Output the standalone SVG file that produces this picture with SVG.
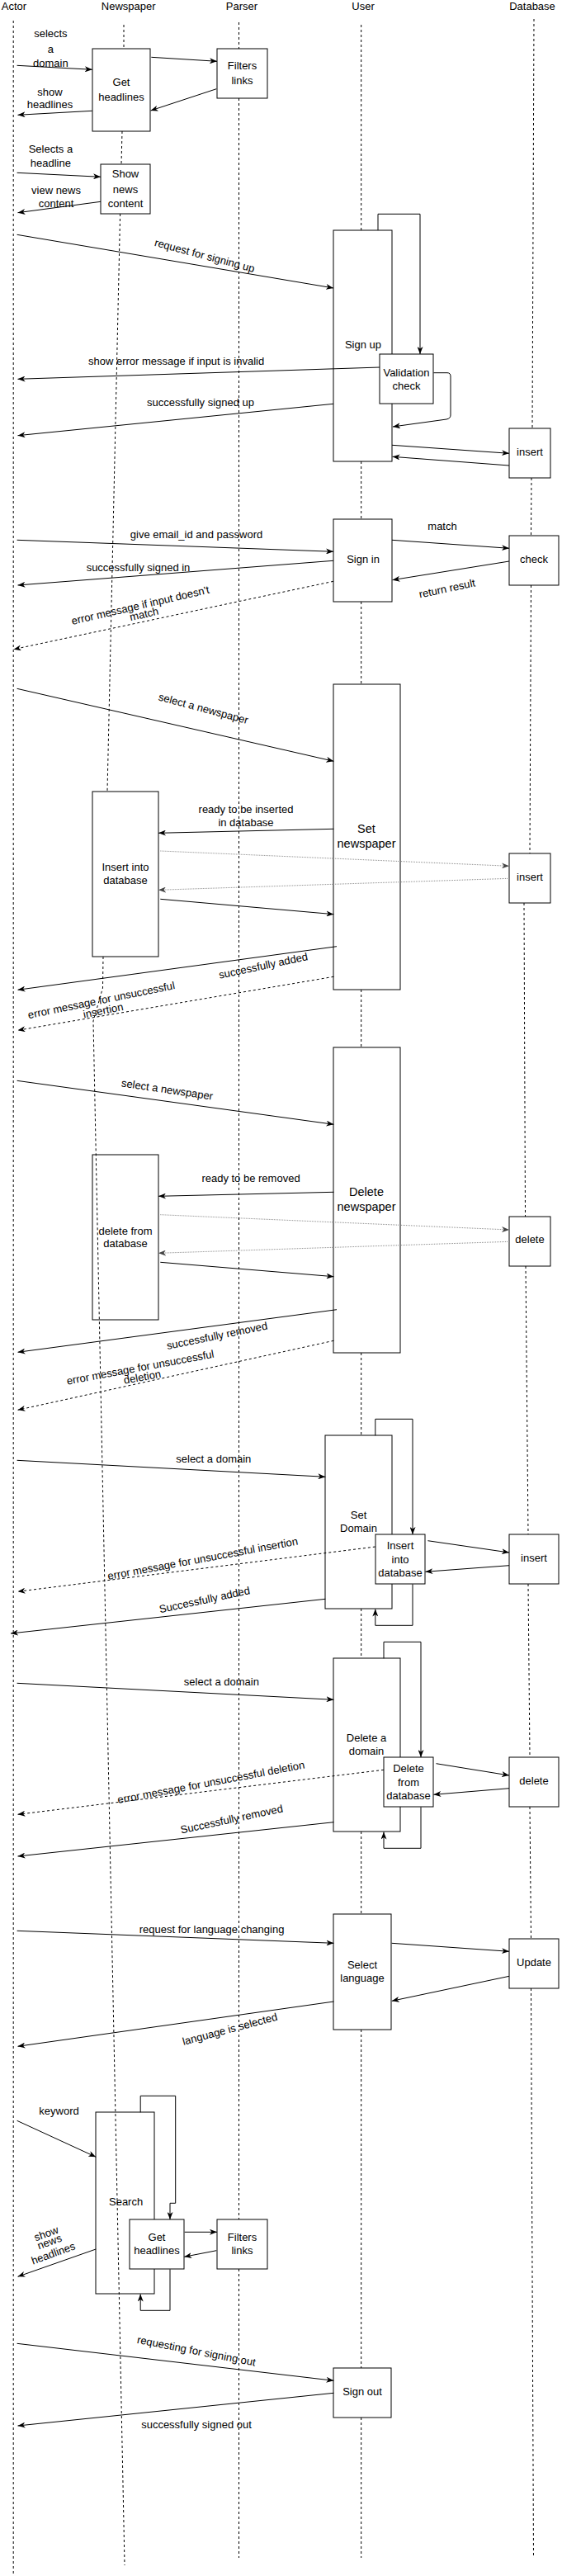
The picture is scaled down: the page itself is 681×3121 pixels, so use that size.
<svg xmlns="http://www.w3.org/2000/svg" width="681" height="3121" viewBox="0 0 681 3121">
<style>
text{font-family:"Liberation Sans",Arial,Helvetica,sans-serif;font-size:13px;fill:#000;text-anchor:middle}
.big{font-size:14.5px}
.box{fill:#fff;stroke:#000;stroke-width:1}
.ll{fill:none;stroke:#000;stroke-width:1;stroke-dasharray:3 3}
.m{fill:none;stroke:#000;stroke-width:1;marker-end:url(#a)}
.d{fill:none;stroke:#000;stroke-width:1;stroke-dasharray:3 3;marker-end:url(#a)}
.g{fill:none;stroke:#8c8c8c;stroke-width:1;stroke-dasharray:1 1;marker-end:url(#ag)}
</style>
<defs>
<marker id="a" viewBox="0 0 9 7" refX="9" refY="3.5" markerWidth="9" markerHeight="7" markerUnits="userSpaceOnUse" orient="auto"><path d="M0,0 L9,3.5 L0,7 L2.5,3.5 z" fill="#000"/></marker>
<marker id="ag" viewBox="0 0 9 7" refX="9" refY="3.5" markerWidth="9" markerHeight="7" markerUnits="userSpaceOnUse" orient="auto"><path d="M0,0 L9,3.5 L0,7 L2.5,3.5 z" fill="#444"/></marker>
</defs>
<rect width="681" height="3121" fill="#fff"/>

<g id="headers">
<text x="17" y="12">Actor</text>
<text x="155.7" y="12">Newspaper</text>
<text x="293" y="12">Parser</text>
<text x="440" y="12">User</text>
<text x="645" y="12">Database</text>
</g>

<g id="n_get_headlines"><rect class="box" x="112" y="59" width="70" height="100"/><text x="147" y="103.8">Get</text><text x="147" y="121.8">headlines</text></g>
<g id="p_filters_links"><rect class="box" x="263" y="59" width="61" height="60"/><text x="293.5" y="83.8">Filters</text><text x="293.5" y="101.8">links</text></g>
<g id="n_show_news"><rect class="box" x="122" y="199" width="60" height="60"/><text x="152" y="215.2">Show</text><text x="152" y="233.5">news</text><text x="152" y="251.2">content</text></g>
<g id="u_sign_up"><rect class="box" x="404" y="279" width="71" height="280"/><text x="440" y="421.5">Sign up</text></g>
<g id="u_validation"><rect class="box" x="460" y="429" width="65" height="60"/><text x="492.5" y="455.8">Validation</text><text x="492.5" y="471.5">check</text></g>
<g id="d_insert1"><rect class="box" x="617" y="519" width="50" height="60"/><text x="642" y="551.5">insert</text></g>
<g id="u_sign_in"><rect class="box" x="404" y="629" width="71" height="100"/><text x="440" y="681.5">Sign in</text></g>
<g id="d_check"><rect class="box" x="617" y="649" width="60" height="60"/><text x="647" y="681.5">check</text></g>
<g id="u_set_newspaper"><rect class="box" x="404" y="829" width="81" height="370"/><text class="big" x="444" y="1009">Set</text><text class="big" x="444" y="1027.3">newspaper</text></g>
<g id="n_insert_db"><rect class="box" x="112" y="959" width="80" height="200"/><text x="152" y="1055.2">Insert into</text><text x="152" y="1071.2">database</text></g>
<g id="d_insert2"><rect class="box" x="617" y="1034" width="50" height="60"/><text x="642" y="1067.2">insert</text></g>
<g id="u_delete_newspaper"><rect class="box" x="404" y="1269" width="81" height="370"/><text class="big" x="444" y="1449">Delete</text><text class="big" x="444" y="1467.3">newspaper</text></g>
<g id="n_delete_db"><rect class="box" x="112" y="1399" width="80" height="200"/><text x="152" y="1495.5">delete from</text><text x="152" y="1511.2">database</text></g>
<g id="d_delete1"><rect class="box" x="617" y="1474" width="50" height="60"/><text x="642" y="1506.2">delete</text></g>
<g id="u_set_domain"><rect class="box" x="394" y="1739" width="81" height="210"/><text x="434.5" y="1839.5">Set</text><text x="434.5" y="1856.2">Domain</text></g>
<g id="u_insert_db"><rect class="box" x="455" y="1859" width="60" height="60"/><text x="485" y="1877.2">Insert</text><text x="485" y="1893.5">into</text><text x="485" y="1909.5">database</text></g>
<g id="d_insert3"><rect class="box" x="617" y="1859" width="60" height="60"/><text x="647" y="1892.2">insert</text></g>
<g id="u_delete_domain"><rect class="box" x="404" y="2009" width="81" height="210"/><text x="444" y="2110.2">Delete a</text><text x="444" y="2126.2">domain</text></g>
<g id="u_delete_db"><rect class="box" x="465" y="2129" width="60" height="60"/><text x="495" y="2147.2">Delete</text><text x="495" y="2163.5">from</text><text x="495" y="2179.5">database</text></g>
<g id="d_delete2"><rect class="box" x="617" y="2129" width="60" height="60"/><text x="647" y="2161.5">delete</text></g>
<g id="u_select_language"><rect class="box" x="404" y="2319" width="70" height="140"/><text x="439" y="2385.2">Select</text><text x="439" y="2401.2">language</text></g>
<g id="d_update"><rect class="box" x="617" y="2349" width="60" height="60"/><text x="647" y="2382.2">Update</text></g>
<g id="n_search"><rect class="box" x="116" y="2559" width="71" height="220"/><text x="152.6" y="2671.8">Search</text></g>
<g id="n_get_headlines2"><rect class="box" x="157" y="2689" width="66" height="60"/><text x="190" y="2714.5">Get</text><text x="190" y="2730.5">headlines</text></g>
<g id="p_filters_links2"><rect class="box" x="263" y="2689" width="61" height="60"/><text x="293.5" y="2714.5">Filters</text><text x="293.5" y="2730.5">links</text></g>
<g id="u_sign_out"><rect class="box" x="404" y="2869" width="70" height="60"/><text x="439" y="2902.2">Sign out</text></g>

<g id="lifelines">
<path class="ll" d="M16.2,25 L16.2,3120"/>
<path class="ll" d="M150,30 L150,59 M148,159 L147,199 M145.6,259 L130,959 M125,1159 L124.5,1197 L113,1237 L151,3108"/>
<path class="ll" d="M289.5,27 L289.5,59 M289.5,119 L289.5,2689 M289.5,2749 L289.5,3099"/>
<path class="ll" d="M437.7,30 L437.7,279 M437.7,559 L437.7,629 M437.7,729 L437.7,829 M437.7,1199 L437.7,1269 M437.7,1639 L437.7,1739 M437.7,1949 L437.7,2009 M437.7,2219 L437.7,2319 M437.7,2459 L437.7,2869 M437.7,2929 L437.7,3099"/>
<path class="ll" d="M647,23 L645,519 M644,579 L643.5,649 M643.5,709 L642,1034 M635,1094 L636.5,1474 M637,1534 L640,1859 M640,1919 L642,2129 M642,2189 L643.5,2349 M643.5,2409 L646.5,3099"/>
</g>

<g id="connectors">
<path class="m" d="M20.6,79.3 L111.8,84.3"/>
<path class="m" d="M183.3,69.3 L263,74.3"/>
<path class="m" d="M262.3,107.7 L182.5,134"/>
<path class="m" d="M111.8,134.3 L21.5,139.3"/>
<path class="m" d="M20.6,209.3 L122,214.3"/>
<path class="m" d="M122,244.3 L21.5,257.7"/>
<path class="m" d="M20.6,284.3 L404,349"/>
<path class="m" d="M458,279 L458,259.3 L509,259.3 L509,429"/>
<path class="m" d="M460,445 L21.5,459.3"/>
<path class="m" d="M525.4,451.7 L542,451.7 Q546,451.7 546,456 L546,503 Q546,507 541,508 L476,517"/>
<path class="m" d="M404,489.3 L21.5,527.7"/>
<path class="m" d="M475,539.3 L617,549.3"/>
<path class="m" d="M617,564 L475.5,553.3"/>
<path class="m" d="M20.6,654.3 L404,668.3"/>
<path class="m" d="M475,654.3 L617,664.3"/>
<path class="m" d="M617,680 L475.5,702.7"/>
<path class="m" d="M404,679.3 L21.5,709"/>
<path class="d" d="M404,704.3 L16.5,786.7"/>
<path class="m" d="M20.6,834.3 L404.4,922.3"/>
<path class="m" d="M404.4,1004.3 L192,1009.3"/>
<path class="g" d="M194.3,1031 L617,1049.3"/>
<path class="g" d="M617,1064.3 L192,1078.3"/>
<path class="m" d="M194.3,1089.3 L404.4,1107.7"/>
<path class="m" d="M408,1146.7 L21.5,1199.3"/>
<path class="d" d="M404.4,1183.3 L21.5,1248.3"/>
<path class="m" d="M20.6,1309.3 L404.4,1362.3"/>
<path class="m" d="M404.4,1444.3 L192,1449.3"/>
<path class="g" d="M194.3,1471.7 L617,1490"/>
<path class="g" d="M617,1504.3 L192,1518.3"/>
<path class="m" d="M194.3,1529.3 L404.4,1546.7"/>
<path class="m" d="M408,1586.7 L21.5,1638.3"/>
<path class="d" d="M404.4,1624.3 L21.5,1708.3"/>
<path class="m" d="M454.8,1739.3 L454.8,1719.3 L500,1719.3 L500,1859"/>
<path class="m" d="M20.6,1769.3 L394.3,1789.3"/>
<path class="m" d="M518.4,1866.7 L617,1881"/>
<path class="m" d="M617,1896.7 L515.4,1904.3"/>
<path class="d" d="M454.8,1874 L21.5,1928.3"/>
<path class="m" d="M500,1919.3 L500,1969.3 L454.8,1969.3 L454.8,1949.5"/>
<path class="m" d="M394.3,1937.3 L13,1979"/>
<path class="m" d="M465,2009.3 L465,1989.3 L510,1989.3 L510,2129"/>
<path class="m" d="M20.6,2039.3 L404.4,2059.3"/>
<path class="m" d="M528.5,2136.7 L617,2151"/>
<path class="m" d="M617,2166.7 L525.4,2174.3"/>
<path class="d" d="M465,2144.3 L21.5,2198.3"/>
<path class="m" d="M510,2189.3 L510,2239.3 L465,2239.3 L465,2219.5"/>
<path class="m" d="M404.4,2207.7 L21.5,2249"/>
<path class="m" d="M20.6,2339.3 L404.4,2354.3"/>
<path class="m" d="M474.6,2354.3 L617,2364.3"/>
<path class="m" d="M617,2394.3 L474.8,2424.3"/>
<path class="m" d="M404.4,2425 L21.5,2479.3"/>
<path class="m" d="M20.6,2569.3 L116.2,2613.3"/>
<path class="m" d="M170.2,2559.3 L170.2,2539.3 L212.7,2539.3 L212.7,2669.3 L206,2669.3 L206,2689"/>
<path class="m" d="M223.7,2704.3 L263,2704.3"/>
<path class="m" d="M262.3,2726.7 L223.2,2734.3"/>
<path class="m" d="M206,2749.3 L206,2799.3 L170.2,2799.3 L170.2,2779.5"/>
<path class="m" d="M116.2,2725 L21.5,2758.3"/>
<path class="m" d="M20.6,2839.3 L404.4,2884.3"/>
<path class="m" d="M404.4,2899.3 L21.5,2939"/>
</g>

<g id="labels">
<text x="61.4" y="45.2">selects</text><text x="61.4" y="63.8">a</text><text x="61.4" y="81.2">domain</text>
<text x="60.5" y="115.5">show</text><text x="60.5" y="131.2">headlines</text>
<text x="61.4" y="184.5">Selects a</text><text x="61.4" y="201.8">headline</text>
<text x="68" y="235.2">view news</text><text x="68" y="251.2">content</text>
<text x="248" y="314" transform="rotate(15 248 309.5)">request for signing up</text>
<text x="213.6" y="442.2">show error message if input is invalid</text>
<text x="243" y="492.2">successfully signed up</text>
<text x="238" y="651.8">give email_id and password</text>
<text x="536" y="641.8">match</text>
<text x="541.7" y="717.5" transform="rotate(-12 541.7 713)">return result</text>
<text x="167.5" y="692.2">successfully signed in</text>
<text x="170" y="737.8" transform="rotate(-13 170 733.3)">error message if input doesn't</text>
<text x="174.6" y="748.5" transform="rotate(-13 174.6 744)">match</text>
<text x="246.5" y="862.8" transform="rotate(15 246.5 858.3)">select a newspaper</text>
<text x="298" y="985.2">ready to be inserted</text><text x="298" y="1001.2">in database</text>
<text x="319" y="1174.5" transform="rotate(-12 319 1170)">successfully added</text>
<text x="122.8" y="1216.2" transform="rotate(-11.5 122.8 1211.7)">error message for unsuccessful</text>
<text x="125" y="1228.8" transform="rotate(-11.5 125 1224.3)">insertion</text>
<text x="202.6" y="1324.5" transform="rotate(8.4 202.6 1320)">select a newspaper</text>
<text x="304" y="1432.2">ready to be removed</text>
<text x="263" y="1622.8" transform="rotate(-11.5 263 1618.3)">successfully removed</text>
<text x="170" y="1661.2" transform="rotate(-10.5 170 1656.7)">error message for unsuccessful</text>
<text x="172.4" y="1672.8" transform="rotate(-10.5 172.4 1668.3)">deletion</text>
<text x="258.8" y="1772.2">select a domain</text>
<text x="245.6" y="1892.8" transform="rotate(-10.5 245.6 1888.3)">error message for unsuccessful insertion</text>
<text x="247.8" y="1942.8" transform="rotate(-12 247.8 1938.3)">Successfully added</text>
<text x="268.4" y="2042.2">select a domain</text>
<text x="255.7" y="2163.8" transform="rotate(-10.7 255.7 2159.3)">error message for unsuccessful deletion</text>
<text x="280.7" y="2208.5" transform="rotate(-12 280.7 2204)">Successfully removed</text>
<text x="256.6" y="2342.2">request for language changing</text>
<text x="278.5" y="2462.8" transform="rotate(-15 278.5 2458.3)">language is selected</text>
<text x="71.5" y="2562.2">keyword</text>
<text x="56" y="2710.5" transform="rotate(-20 56 2706)">show</text>
<text x="60" y="2720.5" transform="rotate(-20 60 2716)">news</text>
<text x="64.5" y="2734.5" transform="rotate(-20 64.5 2730)">headlines</text>
<text x="238" y="2852.8" transform="rotate(11 238 2848.3)">requesting for signing out</text>
<text x="238" y="2942.2">successfully signed out</text>
</g>
</svg>
